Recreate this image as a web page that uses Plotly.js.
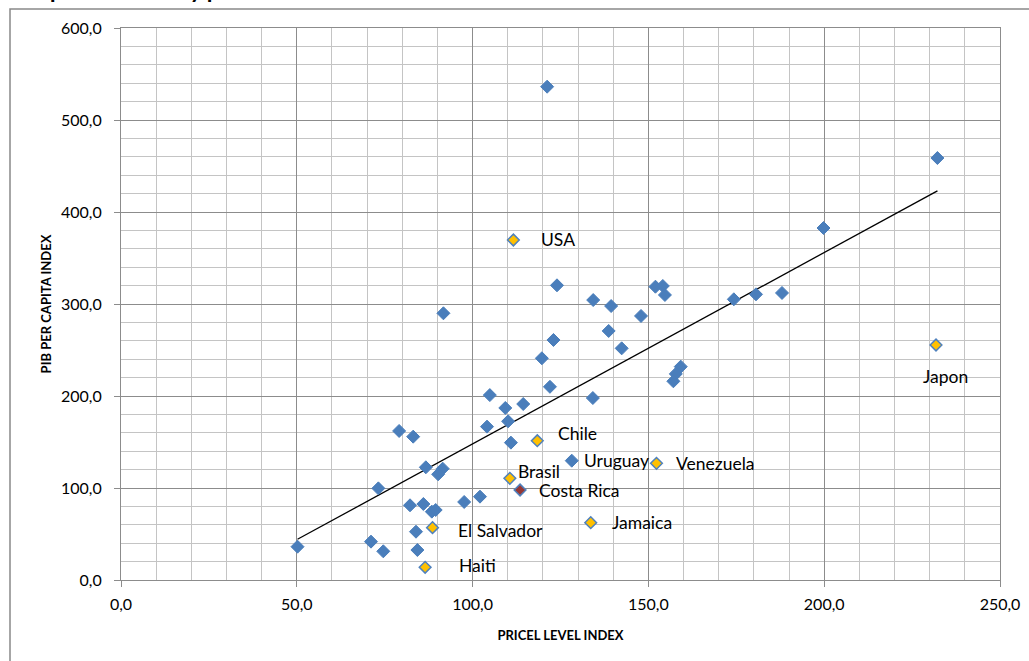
<!DOCTYPE html>
<html>
<head>
<meta charset="utf-8">
<script src="https://cdn.plot.ly/plotly-3.0.1.min.js"></script>
<style>html,body{margin:0;padding:0;background:#fff;}#chart{width:1029px;height:661px;}</style>
</head>
<body>
<div id="chart"></div>
<script>
// Unlabelled countries (price level index, GDP per capita index)
const priceIdx = [50.2, 71.1, 74.6, 73.2, 79.1, 83.1, 86.7, 91.5, 90.2, 82.2, 86.0, 88.4, 89.5, 83.9, 84.3,
  97.6, 102.1, 104.1, 104.9, 109.3, 114.4, 110.1, 110.9, 122.0, 134.2, 121.2, 91.7, 124.0, 134.3, 139.4,
  138.7, 147.9, 152.0, 154.1, 154.7, 123.0, 142.4, 119.7, 232.2, 199.8, 174.3, 180.6, 188.0, 159.2, 157.8, 157.1];
const gdpIdx = [36.2, 41.7, 31.2, 99.6, 162.0, 155.8, 122.5, 121.0, 114.9, 81.2, 82.6, 74.3, 76.1, 52.5, 32.6,
  84.8, 90.6, 166.7, 201.0, 187.0, 191.3, 172.5, 149.3, 210.0, 197.8, 536.2, 289.9, 320.3, 304.3, 297.8,
  270.7, 287.0, 318.8, 319.6, 309.8, 260.9, 251.8, 241.0, 458.7, 382.6, 305.1, 310.5, 312.0, 231.9, 224.0, 216.0];

// Labelled countries
const labelNames = ['USA', 'Chile', 'Uruguay', 'Venezuela', 'Brasil', 'Costa Rica', 'Jamaica', 'El Salvador', 'Haiti', 'Japon'];
const labelPrice = [111.6, 118.4, 128.2, 152.3, 110.6, 113.5, 133.6, 88.6, 86.5, 231.8];
const labelGdp   = [369.6, 151.4, 129.7, 126.8, 110.5, 97.8, 62.3, 56.9, 13.8, 255.4];
const labelGroup = ['gold', 'gold', 'blue', 'gold', 'gold', 'red', 'gold', 'gold', 'gold', 'gold'];

// Axis ticks
const xTicks = [0, 50, 100, 150, 200, 250];
const yTicks = [0, 100, 200, 300, 400, 500, 600];

const title = 'Riqueza relativa y precios internos de alimentos';
const xTitle = 'PRICEL LEVEL INDEX';
const yTitle = 'PIB PER CAPITA INDEX';

// label placement styles (pixel shifts)
const labelStyle = {
  'USA': {xs: 26, ys: 0, xa: 'left'},
  'Chile': {xs: 19, ys: 7, xa: 'left'},
  'Uruguay': {xs: 10, ys: 0, xa: 'left'},
  'Venezuela': {xs: 18, ys: 0, xa: 'left'},
  'Brasil': {xs: 6, ys: 7, xa: 'left'},
  'Costa Rica': {xs: 17, ys: 0, xa: 'left'},
  'Jamaica': {xs: 19, ys: 0, xa: 'left'},
  'El Salvador': {xs: 23, ys: -3, xa: 'left'},
  'Haiti': {xs: 32, ys: 2, xa: 'left'},
  'Japon': {xs: 9, ys: -31, xa: 'center'}
};

const pick = g => labelGroup.map((k, i) => k === g ? i : -1).filter(i => i >= 0);
const blueIdx = pick('blue'), goldIdx = pick('gold'), redIdx = pick('red');

const allX = priceIdx.concat(labelPrice);
const allY = gdpIdx.concat(labelGdp);
// least-squares trend line
const n = allX.length;
const mx = allX.reduce((a, b) => a + b, 0) / n;
const my = allY.reduce((a, b) => a + b, 0) / n;
let sxy = 0, sxx = 0;
for (let i = 0; i < n; i++) { sxy += (allX[i] - mx) * (allY[i] - my); sxx += (allX[i] - mx) ** 2; }
const slope = sxy / sxx, icpt = my - slope * mx;
const xmin = Math.min(...allX), xmax = Math.max(...allX);

const blueCol = '#4A7EBB';
const traces = [
  {x: [xmin, xmax], y: [icpt + slope * xmin, icpt + slope * xmax], mode: 'lines', type: 'scatter',
   line: {color: '#000', width: 1.3}, hoverinfo: 'skip'},
  {x: priceIdx.concat(blueIdx.map(i => labelPrice[i])), y: gdpIdx.concat(blueIdx.map(i => labelGdp[i])),
   mode: 'markers', type: 'scatter',
   marker: {symbol: 'diamond', size: 10, color: blueCol, line: {color: blueCol, width: 1}}},
  {x: goldIdx.map(i => labelPrice[i]), y: goldIdx.map(i => labelGdp[i]), mode: 'markers', type: 'scatter',
   marker: {symbol: 'diamond', size: 9, color: '#FFC000', line: {color: '#4F81BD', width: 1.5}}},
  {x: redIdx.map(i => labelPrice[i]), y: redIdx.map(i => labelGdp[i]), mode: 'markers', type: 'scatter',
   marker: {symbol: 'diamond', size: 9, color: '#953735', line: {color: '#4F81BD', width: 1.5}}}
];

const annotations = labelNames.map((nm, i) => ({
  x: labelPrice[i], y: labelGdp[i], xref: 'x', yref: 'y', text: nm, showarrow: false,
  xanchor: labelStyle[nm].xa, yanchor: 'middle', xshift: labelStyle[nm].xs, yshift: labelStyle[nm].ys,
  font: {size: 17.5, color: '#000'}
}));
annotations.push({
  x: (20 - 121) / 879, y: (580 - 5) / 552, xref: 'paper', yref: 'paper', xanchor: 'left', yanchor: 'bottom',
  text: '<b>' + title + '</b>', showarrow: false, font: {size: 23, color: '#000'}
});

const gridMajor = '#8C8C8C', gridMinor = '#C4C4C4';
const layout = {
  width: 1029, height: 661,
  margin: {l: 121, r: 29, t: 28, b: 81, pad: 0},
  paper_bgcolor: '#fff', plot_bgcolor: '#fff',
  font: {family: 'Lato, "Open Sans", sans-serif', color: '#000', size: 16},
  separators: ',.',
  showlegend: false,
  xaxis: {
    range: [0, 250], tickvals: xTicks, tickformat: '.1f',
    showgrid: true, gridcolor: gridMajor, gridwidth: 1,
    minor: {dtick: 10, showgrid: true, gridcolor: gridMinor, gridwidth: 1, ticks: ''},
    showline: true, linecolor: gridMajor, linewidth: 1, mirror: true,
    ticks: 'outside', ticklen: 6, tickcolor: gridMajor, zeroline: false,
    ticklabelstandoff: 4,
    tickfont: {size: 16},
    title: {text: '<b>' + xTitle + '</b>', font: {size: 13}, standoff: 18}
  },
  yaxis: {
    range: [0, 600], tickvals: yTicks, tickformat: '.1f',
    showgrid: true, gridcolor: gridMajor, gridwidth: 1,
    minor: {dtick: 20, showgrid: true, gridcolor: gridMinor, gridwidth: 1, ticks: ''},
    showline: true, linecolor: gridMajor, linewidth: 1, mirror: true,
    ticks: 'outside', ticklen: 6, tickcolor: gridMajor, zeroline: false,
    ticklabelstandoff: 9,
    tickfont: {size: 16},
    title: {text: '<b>' + yTitle + '</b>', font: {size: 13}, standoff: 6}
  },
  shapes: [{
    type: 'rect', xref: 'paper', yref: 'paper',
    x0: (10 - 121) / 879, x1: 1.2, y0: -0.3, y1: (580 - 9) / 552,
    line: {color: '#898989', width: 1.5}, fillcolor: 'rgba(0,0,0,0)', layer: 'below'
  }],
  annotations: annotations
};

Plotly.newPlot('chart', traces, layout, {staticPlot: true, displayModeBar: false});
</script>
</body>
</html>
